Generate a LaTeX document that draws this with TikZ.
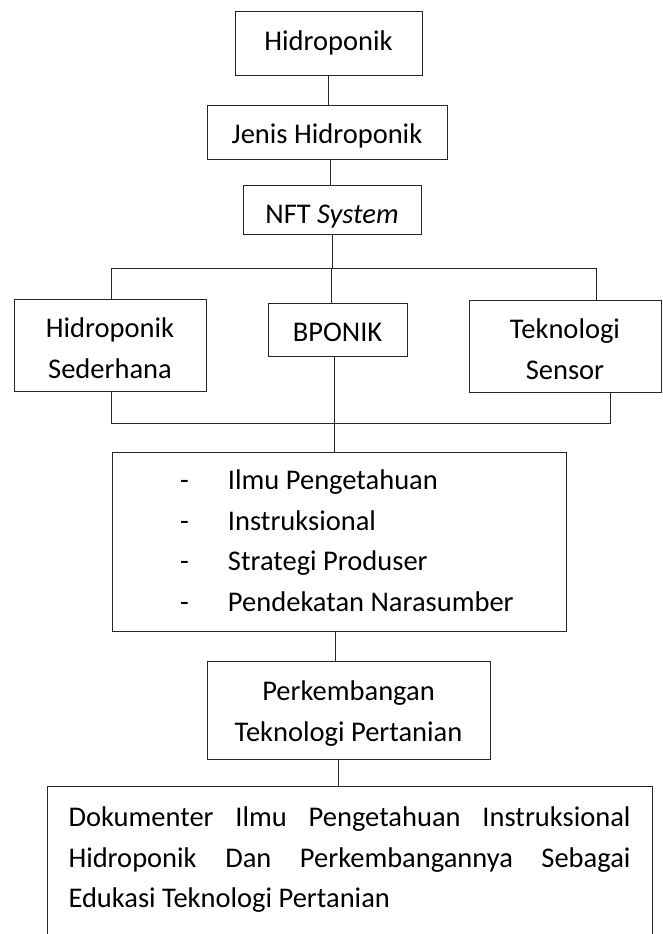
\documentclass[tikz,border=0pt]{standalone}
\usepackage{fontspec}
\setmainfont{Carlito}
\begin{document}
\begin{tikzpicture}[x=1pt,y=-1pt,
  font=\fontsize{28.5}{40.5}\selectfont,
  bx/.style={draw=black!85, line width=1pt, inner sep=0pt, anchor=north},
  ln/.style={draw=black!85, line width=1pt}]
\useasboundingbox (0,0) rectangle (662,934);
\clip (0,0) rectangle (662,934);
% boxes
\node[bx, minimum width=187pt, text height=39pt, text depth=25pt] (hid) at (328.5,11) {Hidroponik};
\node[bx, minimum width=240pt, text height=38pt, text depth=16pt] (jenis) at (327,105) {Jenis Hidroponik};
\node[bx, minimum width=178pt, text height=38pt, text depth=11pt] (nft) at (332,185) {NFT \textit{System}};
\node[bx, minimum width=192pt, text height=38pt, text depth=54pt] (hs) at (110,299)
  {\begin{tabular}[t]{@{}c@{}}Hidroponik\\Sederhana\end{tabular}};
\node[bx, minimum width=139pt, text height=38pt, text depth=15pt] (bponik) at (337.5,303) {BPONIK};
\node[bx, minimum width=192pt, text height=38pt, text depth=54pt] (ts) at (565,300)
  {\begin{tabular}[t]{@{}c@{}}Teknologi\\Sensor\end{tabular}};
\node[bx, minimum width=454pt, text height=37pt, text depth=142pt] (mid) at (339,452)
  {\makebox[318pt][l]{\begin{tabular}[t]{@{}l@{}l@{}}\makebox[48pt][l]{-}&Ilmu Pengetahuan\\
   \makebox[48pt][l]{-}&Instruksional\\
   \makebox[48pt][l]{-}&Strategi Produser\\
   \makebox[48pt][l]{-}&Pendekatan Narasumber\end{tabular}}};
\node[bx, minimum width=283pt, text height=39pt, text depth=59pt] (perk) at (348.5,661)
  {\begin{tabular}[t]{@{}c@{}}Perkembangan\\Teknologi Pertanian\end{tabular}};
\node[bx, minimum width=605pt, text height=40pt, text depth=220pt] (dok) at (349.5,786)
  {\begin{tabular}[t]{@{}l@{}}\hbox to 562pt{Dokumenter\hfill Ilmu\hfill Pengetahuan\hfill Instruksional}\\
   \hbox to 562pt{Hidroponik\hfill Dan\hfill Perkembangannya\hfill Sebagai}\\
   Edukasi Teknologi Pertanian\end{tabular}};
% junction points
\coordinate (tl) at (111,268);
\coordinate (tr) at (596,268);
\coordinate (bl) at (111,423);
\coordinate (br) at (610,423);
% connectors
\draw[ln] (hid.south) -- (hid.south |- jenis.north);
\draw[ln] ([xshift=3pt]jenis.south) -- ([xshift=3pt]jenis.south |- nft.north);
\draw[ln] (nft.south) -- (nft.south |- tl);
\draw[ln] (tl) -- (tr);
\draw[ln] (tl) -- (tl |- hs.north);
\draw[ln] (tr) -- (tr |- ts.north);
\draw[ln] ([xshift=-6.5pt]bponik.north |- tl) -- ([xshift=-6.5pt]bponik.north);
\draw[ln] (bl |- hs.south) -- (bl) -- (br) -- (br |- ts.south);
\draw[ln] ([xshift=-3.5pt]bponik.south) -- ([xshift=-3.5pt]bponik.south |- mid.north);
\draw[ln] ([xshift=-4pt]mid.south) -- ([xshift=-4pt]mid.south |- perk.north);
\draw[ln] ([xshift=-10.5pt]perk.south) -- ([xshift=-10.5pt]perk.south |- dok.north);
\end{tikzpicture}
\end{document}
